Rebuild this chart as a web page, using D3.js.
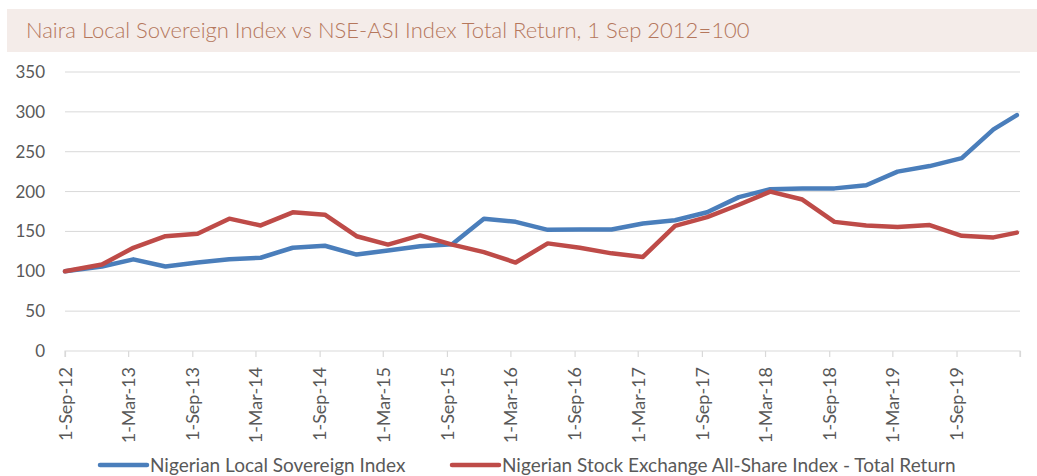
<!DOCTYPE html>
<html>
<head>
<meta charset="utf-8">
<script src="https://cdn.jsdelivr.net/npm/d3@7"></script>
<style>
  html, body { margin: 0; padding: 0; background: #fff; }
  svg { display: block; font-family: Lato, "Open Sans", sans-serif; }
</style>
</head>
<body>
<svg id="chart" width="1037" height="476"></svg>
<script>
const title = "Naira Local Sovereign Index vs NSE-ASI Index Total Return, 1 Sep 2012=100";

const dates = [
  "2012-09-01","2012-12-16","2013-03-16","2013-06-16","2013-09-16","2013-12-16",
  "2014-03-16","2014-06-16","2014-09-16","2014-12-16","2015-03-16","2015-06-16",
  "2015-09-16","2015-12-16","2016-03-16","2016-06-16","2016-09-16","2016-12-16",
  "2017-03-16","2017-06-16","2017-09-16","2017-12-16","2018-03-16","2018-06-16",
  "2018-09-16","2018-12-16","2019-03-16","2019-06-16","2019-09-16","2019-12-16",
  "2020-02-21"
];

const sovereign = [
  100, 106, 115, 106, 111, 115, 117, 129.5, 132, 121, 126, 131.5, 134, 166, 162,
  152, 152.5, 152.5, 160, 164, 174, 193, 203, 204, 204, 208, 225, 232, 242, 278, 296
];

const nseAsi = [
  100, 108.5, 129.5, 144, 147, 166, 157.5, 174, 171, 144, 133.5, 145, 133.5, 124, 111,
  135, 129.5, 122.5, 118, 157, 168, 183.5, 200, 190, 162, 157.5, 155.5, 158, 144.5, 142.5, 148.5
];

const seriesNames = ["Nigerian Local Sovereign Index", "Nigerian Stock Exchange All-Share Index - Total Return"];
const seriesColors = ["#4a7ebb", "#be4b48"];

const xTickLabels = [
  "1-Sep-12","1-Mar-13","1-Sep-13","1-Mar-14","1-Sep-14","1-Mar-15","1-Sep-15","1-Mar-16",
  "1-Sep-16","1-Mar-17","1-Sep-17","1-Mar-18","1-Sep-18","1-Mar-19","1-Sep-19"
];
const xDomainEnd = "1-Mar-20";
const yTicks = [0, 50, 100, 150, 200, 250, 300, 350];

const parseISO = d3.timeParse("%Y-%m-%d");
const parseTick = d3.timeParse("%d-%b-%y");

const svg = d3.select("#chart");
const W = 1037, H = 476;
const m = { left: 65, right: 1020, top: 72, bottom: 351 };

// Title box
svg.append("rect").attr("x", 7).attr("y", 9).attr("width", W - 7).attr("height", 43)
  .attr("fill", "#f4ece9");
svg.append("text").attr("x", 26).attr("y", 38)
  .attr("font-size", 22).attr("font-weight", 300).attr("fill", "#b5775c")
  .text(title);

const x = d3.scaleTime()
  .domain([parseTick(xTickLabels[0]), parseTick(xDomainEnd)])
  .range([m.left, m.right]);
const y = d3.scaleLinear().domain([0, 350]).range([m.bottom, m.top]);

// Gridlines
svg.append("g").selectAll("line").data(yTicks.filter(d => d > 0)).join("line")
  .attr("x1", m.left).attr("x2", m.right)
  .attr("y1", d => y(d)).attr("y2", d => y(d))
  .attr("stroke", "#d9d9d9").attr("stroke-width", 1);

// Y axis labels
const yAxis = d3.axisLeft(y).tickValues(yTicks).tickSize(0).tickPadding(20);
const gy = svg.append("g").attr("transform", `translate(${m.left},0)`).call(yAxis);
gy.select(".domain").remove();
gy.selectAll("text").attr("font-size", 17).attr("fill", "#595959")
  .attr("font-family", "Lato, sans-serif");

// X axis
const tickDates = xTickLabels.map(parseTick).concat([parseTick(xDomainEnd)]);
const xAxis = d3.axisBottom(x).tickValues(tickDates).tickSize(6).tickPadding(4)
  .tickFormat((d, i) => i < xTickLabels.length ? xTickLabels[i] : "");
const gx = svg.append("g").attr("transform", `translate(0,${m.bottom})`).call(xAxis);
gx.select(".domain").attr("stroke", "#d9d9d9").attr("stroke-width", 1.2)
  .attr("d", `M${m.left},6V0H${m.right}V6`);
gx.selectAll(".tick line").attr("stroke", "#d9d9d9").attr("stroke-width", 1.2);
gx.selectAll(".tick text")
  .attr("font-size", 18).attr("fill", "#595959").attr("font-family", "Lato, sans-serif")
  .attr("transform", "rotate(-90)")
  .attr("text-anchor", "end")
  .attr("x", -16).attr("y", 0).attr("dy", "0.35em");

// Lines
const parsedDates = dates.map(parseISO);
const line = d3.line().x((d, i) => x(parsedDates[i])).y(d => y(d));
[sovereign, nseAsi].forEach((s, k) => {
  svg.append("path").datum(s)
    .attr("d", line)
    .attr("fill", "none")
    .attr("stroke", seriesColors[k])
    .attr("stroke-width", 4.5)
    .attr("stroke-linejoin", "round")
    .attr("stroke-linecap", "round");
});

// Legend
const legendX = [100, 452];
const lg = svg.append("g");
seriesNames.forEach((name, k) => {
  lg.append("line").attr("x1", legendX[k]).attr("x2", legendX[k] + 47)
    .attr("y1", 465).attr("y2", 465)
    .attr("stroke", seriesColors[k]).attr("stroke-width", 4.5).attr("stroke-linecap", "round");
  lg.append("text").attr("x", legendX[k] + 50).attr("y", 471.5)
    .attr("font-size", 19).attr("fill", "#595959").text(name);
});
</script>
</body>
</html>
